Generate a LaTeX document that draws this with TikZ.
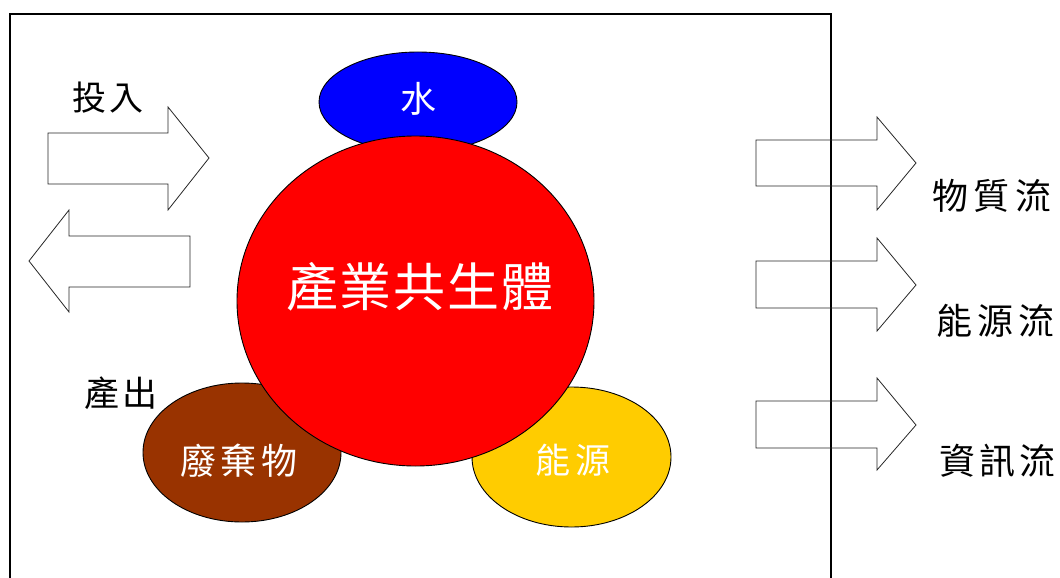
\documentclass[tikz,border=0pt]{standalone}
\usepackage{fontspec}
\usetikzlibrary{shapes.geometric}
\newfontfamily\cjk{Noto Sans CJK TC}
\definecolor{cblue}{HTML}{0000FF}
\definecolor{cred}{HTML}{FF0000}
\definecolor{cbrown}{HTML}{993300}
\definecolor{cyellow}{HTML}{FFCC00}
\newcommand{\fs}[1]{\fontsize{#1}{#1}\selectfont}
\begin{document}
\begin{tikzpicture}[x=1pt,y=-1pt,
  blob/.style={ellipse,draw=black,line width=0.9pt,inner sep=0pt},
  wlabel/.style={text=white,inner sep=0pt,font=\cjk},
  blabel/.style={text=black,inner sep=0pt,font=\cjk},
  fatarrow/.style={draw=black!85,line width=0.8pt,fill=white,line join=miter}]
\useasboundingbox (0,0) rectangle (1060,578);
% frame
\draw[line width=1.3pt] (10,578) -- (10,14) -- (831,14) -- (831,578);
% left arrows
\draw[fatarrow] (48,133) -- (168,133) -- (168,107) -- (209,158) -- (168,210) -- (168,184) -- (48,184) -- cycle;
\draw[fatarrow] (190,236) -- (69,236) -- (69,210) -- (29,261) -- (69,312) -- (69,287) -- (190,287) -- cycle;
% right arrows
\draw[fatarrow,fill=none] (756,140) -- (877,140) -- (877,117) -- (916,163) -- (877,210) -- (877,186) -- (756,186) -- cycle;
\draw[fatarrow,fill=none] (756,261) -- (877,261) -- (877,238) -- (916,285) -- (877,331) -- (877,308) -- (756,308) -- cycle;
\draw[fatarrow,fill=none] (756,401) -- (877,401) -- (877,378) -- (916,425) -- (877,470) -- (877,448) -- (756,448) -- cycle;
% ellipses
\node[blob,fill=cblue,minimum width=198pt,minimum height=100pt] (water) at (418,102) {};
\node[blob,fill=cbrown,minimum width=198pt,minimum height=139pt] (waste) at (242,452.5) {};
\node[blob,fill=cyellow,minimum width=199pt,minimum height=140pt] (energy) at (571.5,457) {};
\node[blob,fill=cred,minimum width=357pt,minimum height=330pt] (sym) at (415.5,301) {};
% texts inside
\node[wlabel] (twater) at (418,98.5) {\fs{36}水};
\node[wlabel] (tsym) at (420,286.5) {\fs{52}產\hspace{2pt}業\hspace{2pt}共\hspace{2pt}生\hspace{2pt}體};
\node[wlabel] (twaste) at (239,461) {\fs{36}廢\hspace{5pt}棄\hspace{5pt}物};
\node[wlabel] (tenergy) at (573,460) {\fs{35}能\hspace{5pt}源};
% outside labels
\node[blabel] (tin) at (108,98) {\fs{34}投\hspace{4pt}入};
\node[blabel] (tout) at (121,393) {\fs{35}產\hspace{3pt}出};
\node[blabel] (tmat) at (992,196) {\fs{36}物\hspace{6pt}質\hspace{6pt}流};
\node[blabel] (tene) at (995.5,321) {\fs{36}能\hspace{5pt}源\hspace{5pt}流};
\node[blabel] (tinf) at (997,461) {\fs{36}資\hspace{4pt}訊\hspace{4pt}流};
\end{tikzpicture}
\end{document}
